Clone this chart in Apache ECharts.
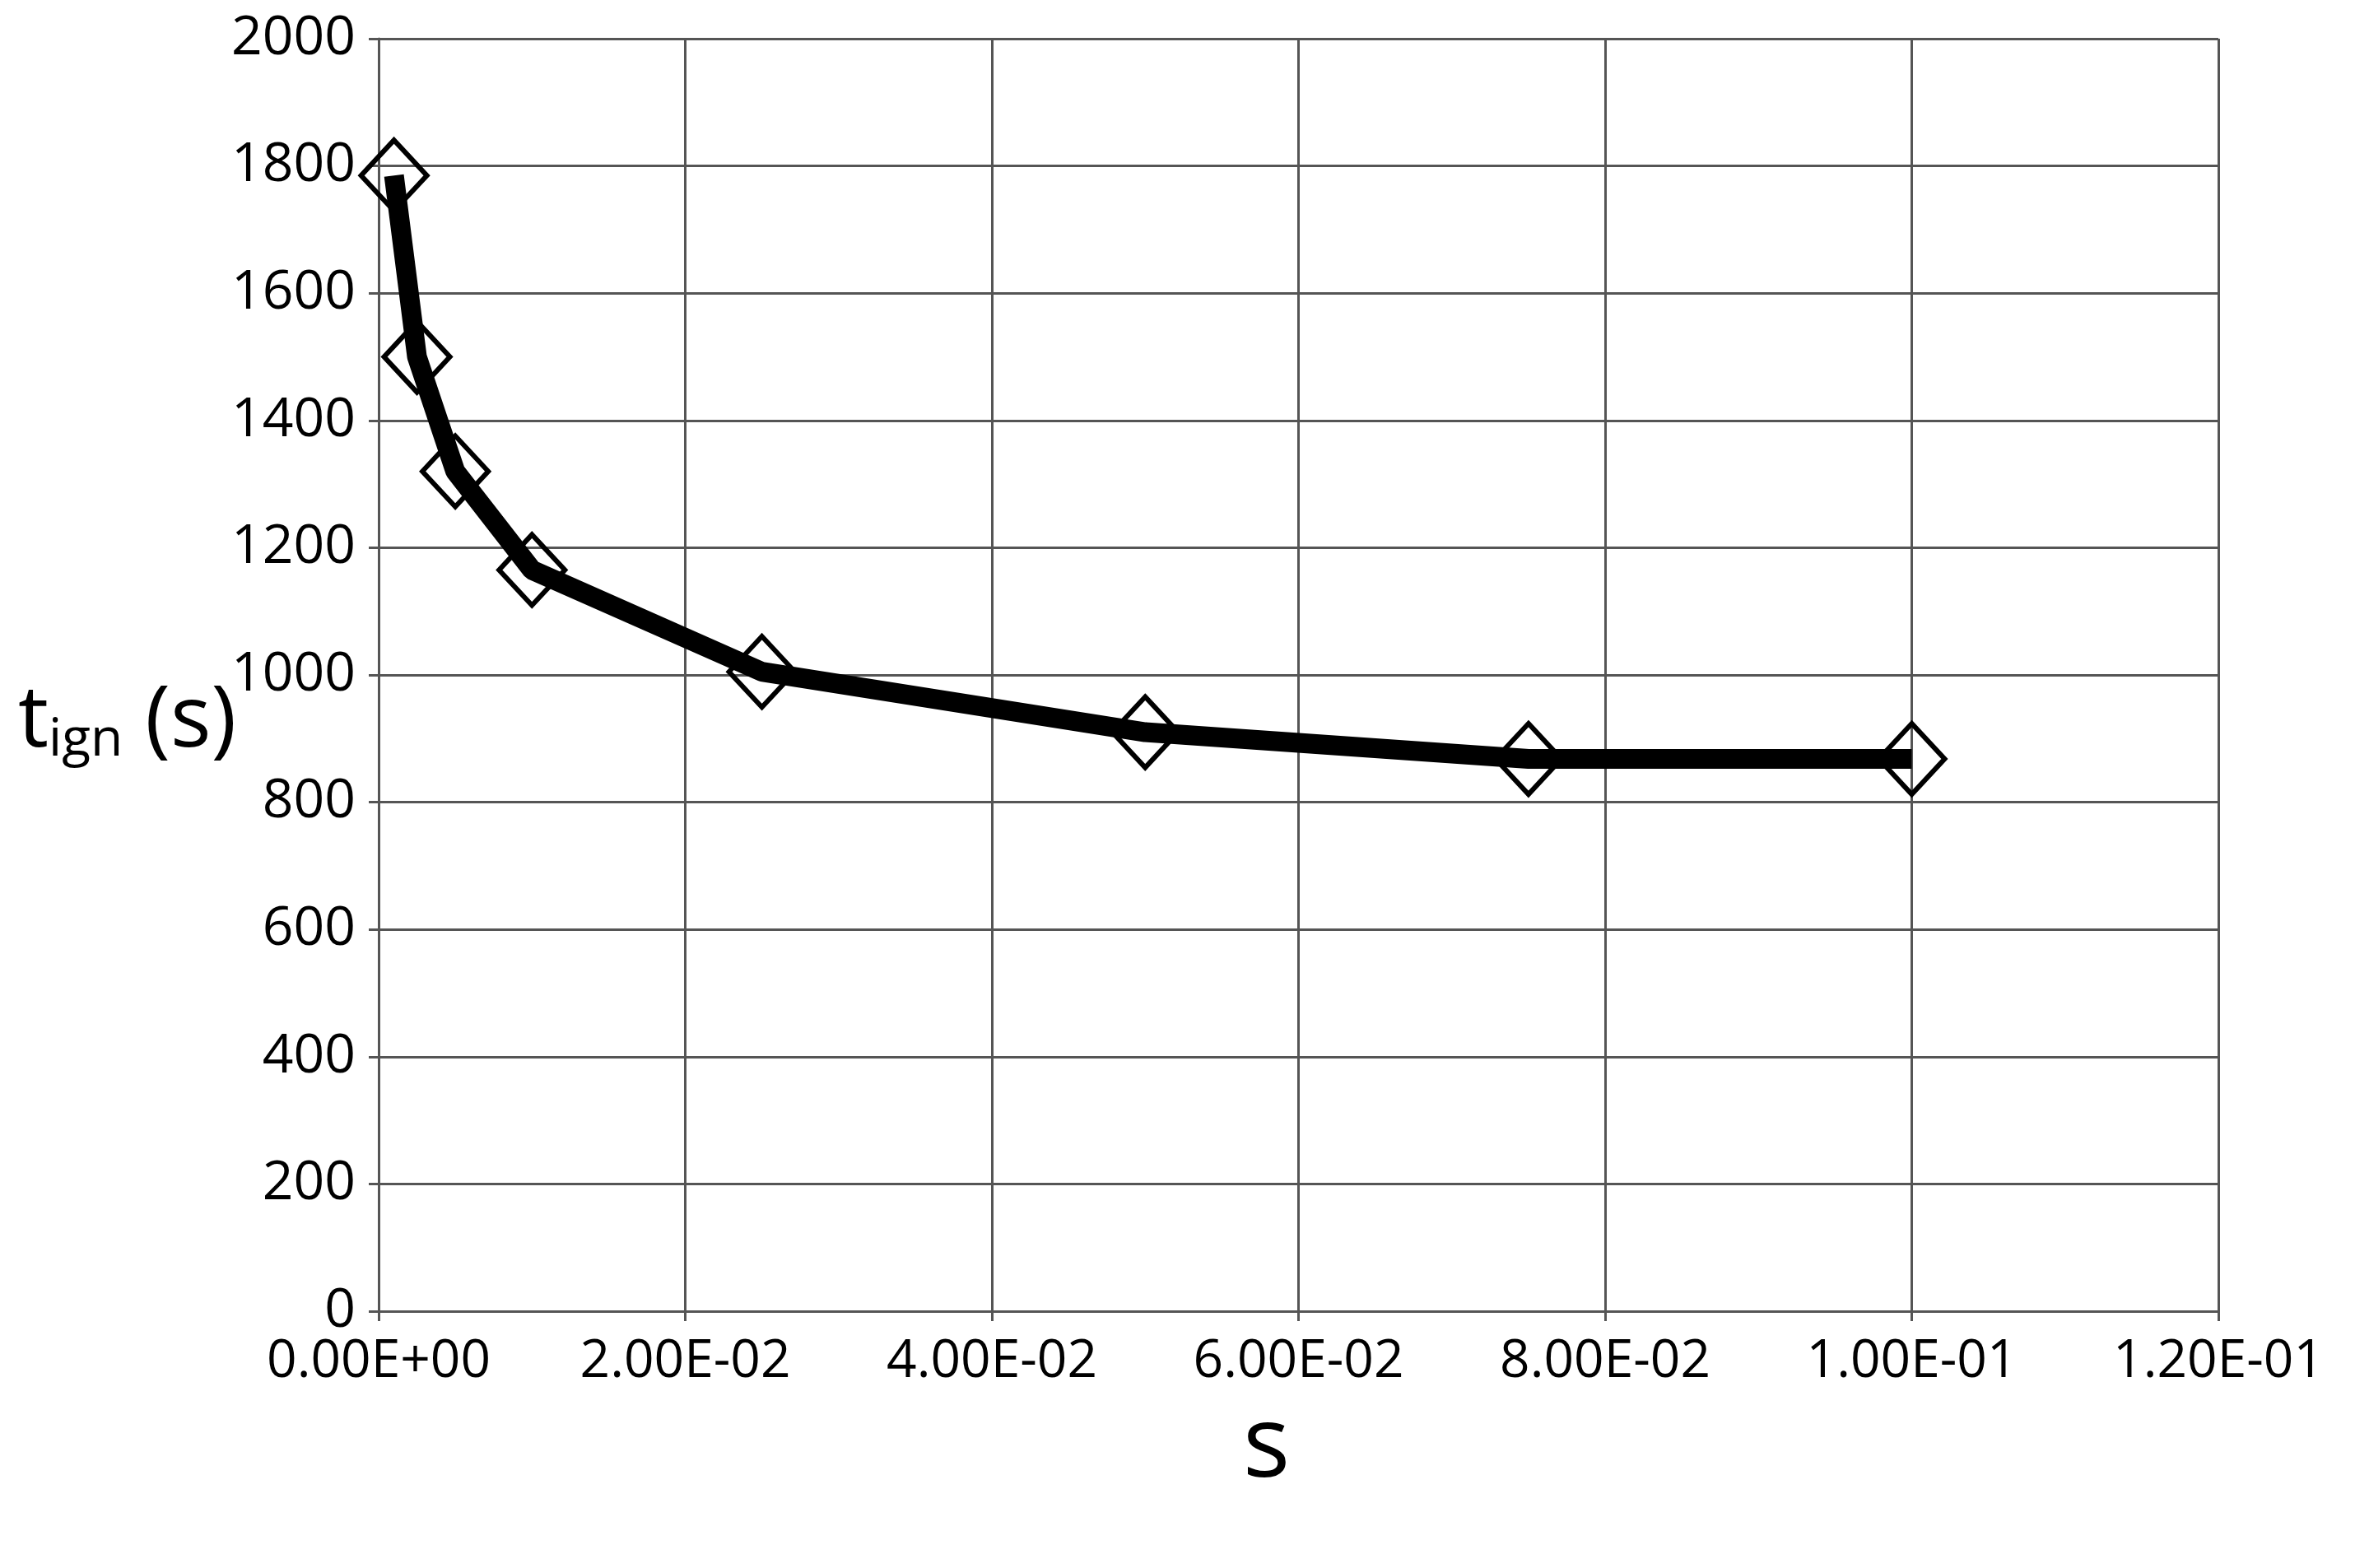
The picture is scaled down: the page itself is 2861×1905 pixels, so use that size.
<!DOCTYPE html>
<html>
<head>
<meta charset="utf-8">
<script src="https://cdn.jsdelivr.net/npm/echarts@6/dist/echarts.min.js"></script>
<style>
html, body { margin: 0; padding: 0; background: #fff; }
#chart { width: 2861px; height: 1905px; }
</style>
</head>
<body>
<div id="chart"></div>
<script>
// data
var sValues = [0.001, 0.0025, 0.005, 0.01, 0.025, 0.05, 0.075, 0.1];
var tIgn = [1785, 1500, 1320, 1165, 1005, 910, 868, 868];

function sciLabel(v) {
    if (v === 0) return '0.00E+00';
    var parts = v.toExponential(2).toUpperCase().split('E');
    var e = parseInt(parts[1], 10);
    var sign = e < 0 ? '-' : '+';
    var abs = Math.abs(e);
    return parts[0] + 'E' + sign + (abs < 10 ? '0' + abs : abs);
}

var myChart = echarts.init(document.getElementById('chart'));
var font = 'Open Sans';
var gridColor = '#555';

var option = {
    backgroundColor: '#fff',
    animation: false,
    grid: {
        left: 460,
        right: 166,
        top: 47,
        bottom: 312
    },
    xAxis: {
        type: 'value',
        min: 0,
        max: 0.12,
        interval: 0.02,
        axisLine: { lineStyle: { color: gridColor, width: 3 } },
        axisTick: { show: true, length: 12, lineStyle: { color: gridColor, width: 3 } },
        axisLabel: {
            fontFamily: font,
            fontSize: 64,
            color: '#000',
            margin: 30,
            formatter: sciLabel
        },
        splitLine: { show: true, lineStyle: { color: gridColor, width: 3 } }
    },
    yAxis: {
        type: 'value',
        min: 0,
        max: 2000,
        interval: 200,
        axisLine: { show: true, lineStyle: { color: gridColor, width: 3 } },
        axisTick: { show: true, length: 12, lineStyle: { color: gridColor, width: 3 } },
        axisLabel: {
            fontFamily: font, fontSize: 66, color: '#000', margin: 28,
            formatter: function (v) { return String(v); }
        },
        splitLine: { show: true, lineStyle: { color: gridColor, width: 3 } }
    },
    graphic: [{
        type: 'text',
        left: 22,
        top: 825,
        z: 100,
        style: {
            text: '{t|t}{sub|ign}{t| (s)}',
            rich: {
                t: { fontFamily: font, fontSize: 104, fill: '#000' },
                sub: { fontFamily: font, fontSize: 64, fill: '#000', padding: [46, 0, 0, 0] }
            }
        }
    }, {
        type: 'text',
        left: 1510,
        top: 1700,
        z: 100,
        style: { text: 's', fontFamily: font, fontSize: 120, fill: '#000' }
    }],
    series: [{
        type: 'line',
        data: sValues.map(function (s, i) { return [s, tIgn[i]]; }),
        symbol: 'diamond',
        symbolSize: [80, 86],
        showAllSymbol: true,
        lineStyle: { color: '#000', width: 24 },
        itemStyle: { color: 'rgba(255,255,255,0)', borderColor: '#000', borderWidth: 6 },
        z: 5
    }]
};
myChart.setOption(option);
</script>
</body>
</html>
